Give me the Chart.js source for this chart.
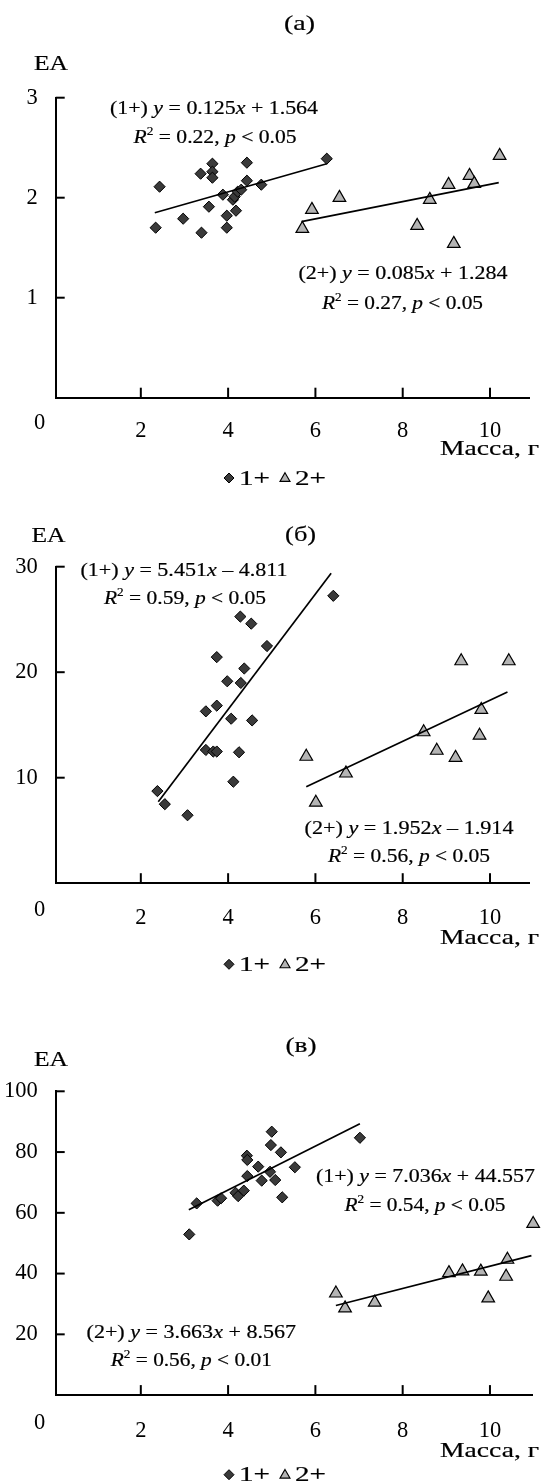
<!DOCTYPE html>
<html><head><meta charset="utf-8">
<script src="https://cdn.jsdelivr.net/npm/chart.js@4.4.1/dist/chart.umd.min.js"></script>
<style>
html,body{margin:0;padding:0;background:#fff;}
#wrap{position:relative;width:543px;height:1484px;overflow:hidden;}
canvas{position:absolute;left:0;}
</style></head><body>
<div id="wrap">
<canvas id="cA" width="543" height="495" style="top:0px"></canvas>
<canvas id="cB" width="543" height="490" style="top:495px"></canvas>
<canvas id="cC" width="543" height="499" style="top:985px"></canvas>
</div>
<script>
// ---------- data ----------
const massTicks = [2, 4, 6, 8, 10];
const originLabel = '0';
const seriesNames = ['1+', '2+'];

// panel (а)
const aMass1 = [2.43, 2.34, 2.97, 3.37, 3.39, 3.56, 3.64, 3.64, 3.64, 3.88, 3.97, 3.97, 4.11, 4.15, 4.18, 4.22, 4.30, 4.43, 4.43, 4.76, 6.26];
const aEA1   = [2.11, 1.70, 1.79, 2.24, 1.65, 1.91, 2.34, 2.26, 2.20, 2.03, 1.82, 1.70, 1.98, 2.01, 1.87, 2.06, 2.08, 2.35, 2.17, 2.13, 2.39];
const aMass2 = [5.70, 5.92, 6.55, 8.33, 8.62, 9.05, 9.17, 9.53, 9.64, 10.22];
const aEA2   = [1.69, 1.88, 2.00, 1.72, 1.98, 2.13, 1.54, 2.22, 2.14, 2.42];
const aTrend1Mass = [2.32, 6.26], aTrend1EA = [1.85, 2.34];
const aTrend2Mass = [5.68, 10.20], aTrend2EA = [1.76, 2.15];
const aEATicks = [1, 2, 3];

// panel (б)
const bMass1 = [2.38, 2.55, 3.07, 3.49, 3.49, 3.66, 3.74, 3.74, 3.74, 3.98, 4.07, 4.12, 4.25, 4.28, 4.29, 4.37, 4.53, 4.55, 4.89, 6.41];
const bEA1   = [8.73, 7.49, 6.44, 16.29, 12.63, 12.48, 12.48, 21.43, 16.83, 19.14, 15.59, 9.62, 12.41, 25.27, 18.98, 20.35, 24.60, 15.43, 22.48, 27.24];
const bMass2 = [5.79, 6.01, 6.70, 8.48, 8.78, 9.21, 9.34, 9.76, 9.80, 10.43];
const bEA2   = [12.0, 7.65, 10.41, 14.32, 12.57, 11.90, 21.05, 14.0, 16.44, 21.05];
const bTrend1Mass = [2.40, 6.36], bTrend1EA = [7.71, 29.37];
const bTrend2Mass = [5.79, 10.40], bTrend2EA = [9.14, 18.13];
const bEATicks = [10, 20, 30];

// panel (в)
const cMass1 = [3.11, 3.28, 3.76, 3.84, 4.17, 4.23, 4.36, 4.44, 4.43, 4.44, 4.69, 4.77, 4.96, 5.08, 5.00, 4.98, 5.21, 5.24, 5.53, 7.02];
const cEA1   = [52.9, 63.1, 64.0, 64.8, 66.6, 65.5, 67.3, 72.1, 78.8, 77.4, 75.2, 70.6, 73.5, 70.8, 86.7, 82.3, 79.9, 65.1, 75.0, 84.7];
const cMass2 = [6.47, 6.68, 7.36, 9.06, 9.37, 9.79, 9.96, 10.37, 10.40, 10.99];
const cEA2   = [33.5, 28.6, 30.5, 40.2, 40.8, 40.7, 31.9, 39.0, 44.6, 56.4];
const cTrend1Mass = [3.10, 7.02], cTrend1EA = [61.0, 89.3];
const cTrend2Mass = [6.47, 10.95], cTrend2EA = [29.5, 45.9];
const cEATicks = [20, 40, 60, 80, 100];

// ---------- helpers ----------
const SERIF = '"Liberation Serif", "Times New Roman", serif';
const pts = (xs, ys) => xs.map((x, i) => ({x, y: ys[i]}));

function richText(ctx, segs, cx, cy, size, targetW, align) {
  ctx.save();
  const parts = segs.map(s => {
    const fs = s.sup ? size * 0.62 : size;
    const font = (s.it ? 'italic ' : '') + fs + 'px ' + SERIF;
    ctx.font = font;
    return {t: s.t, font, w: ctx.measureText(s.t).width, sup: s.sup};
  });
  const W = parts.reduce((a, p) => a + p.w, 0);
  const sx = targetW ? targetW / W : 1;
  const tw = W * sx;
  const x0 = align === 'right' ? cx - tw : (align === 'left' ? cx : cx - tw / 2);
  ctx.translate(x0, cy + size * 0.33);
  ctx.scale(sx, 1);
  ctx.fillStyle = '#000';
  ctx.strokeStyle = '#000';
  ctx.lineWidth = 0.2;
  ctx.textBaseline = 'alphabetic';
  ctx.textAlign = 'left';
  let x = 0;
  for (const p of parts) {
    ctx.font = p.font;
    const yy = p.sup ? -size * 0.42 : 0;
    ctx.fillText(p.t, x, yy);
    ctx.strokeText(p.t, x, yy);
    x += p.w;
  }
  ctx.restore();
}
function eq(group, slope, sign, icpt) {
  return [{t: '(' + group + ') '}, {t: 'y', it: 1}, {t: ' = ' + slope}, {t: 'x', it: 1}, {t: ' ' + sign + ' ' + icpt}];
}
function r2(r, pv) {
  return [{t: 'R', it: 1}, {t: '2', sup: 1}, {t: ' = ' + r + ', '}, {t: 'p', it: 1}, {t: ' < ' + pv}];
}
function diamond(ctx, x, y, r) {
  ctx.beginPath(); ctx.moveTo(x - r, y); ctx.lineTo(x, y - r); ctx.lineTo(x + r, y); ctx.lineTo(x, y + r); ctx.closePath();
  ctx.fillStyle = '#3a3a3a'; ctx.fill(); ctx.lineWidth = 1; ctx.strokeStyle = '#000'; ctx.stroke();
}
function triangle(ctx, x, y, r) {
  const h = Math.sqrt(3) / 2 * r;
  ctx.beginPath(); ctx.moveTo(x, y - r); ctx.lineTo(x + h, y + r / 2); ctx.lineTo(x - h, y + r / 2); ctx.closePath();
  ctx.fillStyle = '#b4b4b4'; ctx.fill(); ctx.lineWidth = 1.1; ctx.strokeStyle = '#000'; ctx.stroke();
}

function makePanel(id, opt) {
  const cv = document.getElementById(id);
  const H = cv.height;
  const deco = {
    id: 'deco_' + id,
    afterDraw(chart) {
      const {ctx, chartArea} = chart;
      const xs = chart.scales.x, ys = chart.scales.y;
      ctx.save();
      ctx.strokeStyle = '#000'; ctx.lineWidth = 2;
      for (const v of massTicks) {
        const px = xs.getPixelForValue(v);
        ctx.beginPath(); ctx.moveTo(px, chartArea.bottom); ctx.lineTo(px, chartArea.bottom - 10); ctx.stroke();
      }
      for (const v of opt.eaTicks) {
        const py = ys.getPixelForValue(v);
        ctx.beginPath(); ctx.moveTo(chartArea.left, py); ctx.lineTo(chartArea.left + 9, py); ctx.stroke();
      }
      ctx.restore();
      ctx.save();
      ctx.font = '22.5px ' + SERIF; ctx.fillStyle = '#000';
      ctx.textAlign = 'center'; ctx.textBaseline = 'middle';
      ctx.fillText(originLabel, 39.5, chartArea.bottom + opt.tickPad + 22.5 * 1.2 / 2);
      ctx.restore();
      richText(ctx, [{t: opt.title}], opt.titleX, opt.titleY, 22, 31);
      richText(ctx, [{t: 'EA'}], opt.eaX, opt.eaY, 22, 34);
      richText(ctx, [{t: 'Масса, г'}], 539, opt.massY, 22, 99, 'right');
      for (const a of opt.notes) richText(ctx, a.segs, a.x, a.y, 19, a.w);
      const ly = opt.legendY;
      ctx.save();
      diamond(ctx, 229, ly, 5);
      triangle(ctx, 285, ly + 0.5, 5.8);
      ctx.restore();
      richText(ctx, [{t: seriesNames[0]}], 239, ly, 20, 31, 'left');
      richText(ctx, [{t: seriesNames[1]}], 295, ly, 20, 31, 'left');
    }
  };
  const tickFont = {family: SERIF, size: 22.5};
  return new Chart(cv, {
    type: 'scatter',
    data: {
      datasets: [
        {data: pts(opt.t1x, opt.t1y), showLine: true, borderColor: '#000', borderWidth: 1.7, pointRadius: 0, fill: false},
        {data: pts(opt.t2x, opt.t2y), showLine: true, borderColor: '#000', borderWidth: 1.7, pointRadius: 0, fill: false},
        {label: seriesNames[0], data: pts(opt.x1, opt.y1), pointStyle: 'rectRot', pointRadius: 5.6, pointHoverRadius: 5.6,
          backgroundColor: '#3a3a3a', borderColor: '#000', borderWidth: 1, clip: false},
        {label: seriesNames[1], data: pts(opt.x2, opt.y2), pointStyle: 'triangle', pointRadius: 7.3, pointHoverRadius: 7.3,
          backgroundColor: '#b4b4b4', borderColor: '#000', borderWidth: 1.2, clip: false}
      ]
    },
    options: {
      responsive: false, animation: false, devicePixelRatio: 1,
      layout: {padding: {top: opt.top, left: 0, right: 543 - opt.right, bottom: 0}},
      plugins: {legend: {display: false}, tooltip: {enabled: false}, title: {display: false}},
      scales: {
        x: {
          type: 'linear', min: 0.05, max: opt.xmax,
          afterBuildTicks: s => { s.ticks = massTicks.map(v => ({value: v})); },
          afterFit: s => { s.height = H - opt.bottom; },
          grid: {display: false},
          border: {display: true, color: '#000', width: 2},
          ticks: {font: tickFont, color: '#000', padding: opt.tickPad, maxRotation: 0, autoSkip: false}
        },
        y: {
          type: 'linear', min: 0, max: opt.ymax,
          afterBuildTicks: s => { s.ticks = opt.eaTicks.map(v => ({value: v})); },
          afterFit: s => { s.width = 55.7; },
          grid: {display: false},
          border: {display: true, color: '#000', width: 2},
          ticks: {font: tickFont, color: '#000', padding: 10}
        }
      }
    },
    plugins: [deco]
  });
}

makePanel('cA', {
  x1: aMass1, y1: aEA1, x2: aMass2, y2: aEA2,
  t1x: aTrend1Mass, t1y: aTrend1EA, t2x: aTrend2Mass, t2y: aTrend2EA,
  eaTicks: aEATicks, ymax: 3, xmax: 10.9, top: 97.7, bottom: 397.7, right: 529.3, tickPad: 12,
  title: '(а)', titleX: 299.5, titleY: 23, eaX: 51, eaY: 63, massY: 448, legendY: 478,
  notes: [
    {segs: eq('1+', '0.125', '+', '1.564'), x: 214, y: 108, w: 208},
    {segs: r2('0.22', '0.05'), x: 215, y: 137, w: 163},
    {segs: eq('2+', '0.085', '+', '1.284'), x: 403, y: 273, w: 209},
    {segs: r2('0.27', '0.05'), x: 402.5, y: 303, w: 161}
  ]
});
makePanel('cB', {
  x1: bMass1, y1: bEA1, x2: bMass2, y2: bEA2,
  t1x: bTrend1Mass, t1y: bTrend1EA, t2x: bTrend2Mass, t2y: bTrend2EA,
  eaTicks: bEATicks, ymax: 30, xmax: 10.9, top: 71.7, bottom: 388.2, right: 529.3, tickPad: 13,
  title: '(б)', titleX: 300.6, titleY: 38.3, eaX: 48.5, eaY: 40, massY: 441.7, legendY: 469.3,
  notes: [
    {segs: eq('1+', '5.451', '–', '4.811'), x: 184, y: 74.3, w: 207},
    {segs: r2('0.59', '0.05'), x: 185, y: 102.7, w: 162},
    {segs: eq('2+', '1.952', '–', '1.914'), x: 409, y: 332.7, w: 209},
    {segs: r2('0.56', '0.05'), x: 409, y: 361, w: 162}
  ]
});
makePanel('cC', {
  x1: cMass1, y1: cEA1, x2: cMass2, y2: cEA2,
  t1x: cTrend1Mass, t1y: cTrend1EA, t2x: cTrend2Mass, t2y: cTrend2EA,
  eaTicks: cEATicks, ymax: 100, xmax: 10.97, top: 106.3, bottom: 410.1, right: 532.3, tickPad: 14,
  title: '(в)', titleX: 301, titleY: 60.2, eaX: 51, eaY: 73.6, massY: 464.6, legendY: 489.7,
  notes: [
    {segs: eq('1+', '7.036', '+', '44.557'), x: 425.4, y: 190.6, w: 219},
    {segs: r2('0.54', '0.05'), x: 425, y: 220, w: 161},
    {segs: eq('2+', '3.663', '+', '8.567'), x: 191.3, y: 346.7, w: 209.5},
    {segs: r2('0.56', '0.01'), x: 191.3, y: 375, w: 161}
  ]
});
</script>
</body></html>
